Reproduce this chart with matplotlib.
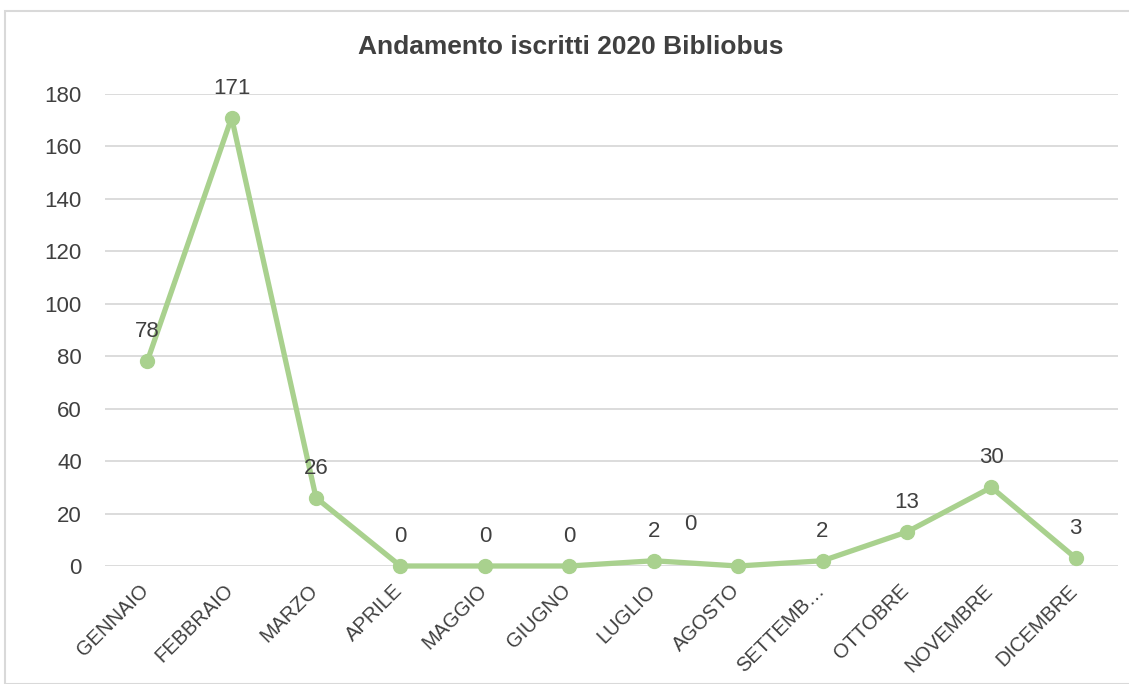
import matplotlib
matplotlib.use("Agg")
import matplotlib.pyplot as plt
import matplotlib.transforms as mt
from matplotlib.patches import Rectangle

months = ["GENNAIO", "FEBBRAIO", "MARZO", "APRILE", "MAGGIO", "GIUGNO",
          "LUGLIO", "AGOSTO", "SETTEMB…", "OTTOBRE", "NOVEMBRE", "DICEMBRE"]
iscritti = [78, 171, 26, 0, 0, 0, 2, 0, 2, 13, 30, 3]
y_ticks = [0, 20, 40, 60, 80, 100, 120, 140, 160, 180]
title = "Andamento iscritti 2020 Bibliobus"

plt.rcParams['font.family'] = ['Liberation Sans', 'DejaVu Sans']
txt = '#404040'
green = '#A9D18E'

W, H = 1129, 684
PX = 0.72  # points per pixel at dpi 100
fig = plt.figure(figsize=(W / 100, H / 100), dpi=100)
fig.patches.append(Rectangle((5 / W, 0), 2, 1 - 11 / H, transform=fig.transFigure,
                             fill=False, edgecolor='#D9D9D9', linewidth=1.5))
ax = fig.add_axes([105 / W, 1 - 566 / H, (1118 - 105) / W, (566 - 94) / H])
x = list(range(len(months)))
ax.plot(x, iscritti, color=green, linewidth=3.8, marker='o', markersize=10,
        clip_on=False, zorder=3, solid_joinstyle='round')
ax.set_xlim(-0.5, len(months) - 0.5)
ax.set_ylim(0, 180)
ax.set_yticks(y_ticks)
ax.grid(axis='y', color='#D9D9D9', linewidth=1.3)
ax.set_axisbelow(True)
for s in ax.spines.values():
    s.set_visible(False)
ax.tick_params(axis='y', length=0, labelsize=16, labelcolor=txt, pad=23 * PX)
ax.tick_params(axis='x', length=0, labelsize=14.5, labelcolor=txt, pad=15 * PX)
ax.set_xticks(x)
ax.set_xticklabels(months, rotation=45, ha='right', va='top', rotation_mode='anchor')
offs = mt.ScaledTranslation(-8 / 100, 0, fig.dpi_scale_trans)
for lbl in ax.get_xticklabels():
    lbl.set_transform(lbl.get_transform() + offs)

for i, v in enumerate(iscritti):
    dx, dy = 0, 24
    if months[i] == "AGOSTO":
        dx, dy = -48, 36
    ax.annotate(str(v), (i, v), xytext=(dx * PX, dy * PX), textcoords='offset points',
                ha='center', va='baseline', fontsize=16, color=txt)

fig.text(571 / W, 1 - 47 / H, title, ha='center', va='center', fontsize=19,
         fontweight='bold', color=txt)
fig.savefig("out.png", dpi=100, facecolor='white')
